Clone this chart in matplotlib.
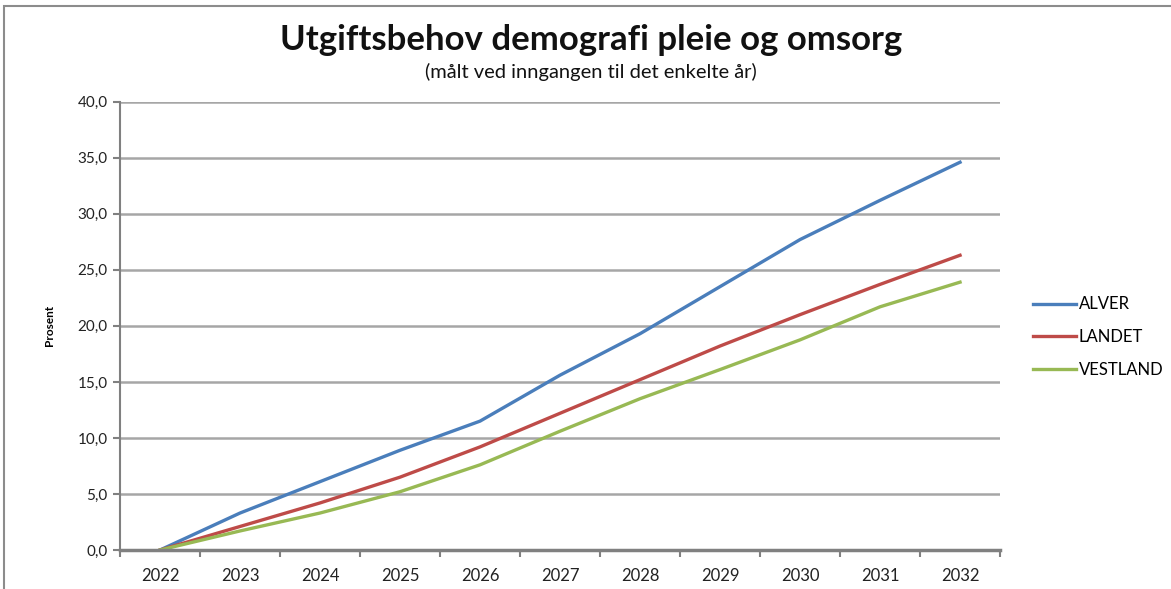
import numpy as np
import matplotlib
matplotlib.use('Agg')
import matplotlib.pyplot as plt
from matplotlib.patches import Rectangle

# Data
years = ['2022', '2023', '2024', '2025', '2026', '2027', '2028', '2029', '2030', '2031', '2032']
alver = [0.0, 3.3, 6.1, 8.9, 11.5, 15.6, 19.3, 23.5, 27.7, 31.2, 34.6]
landet = [0.0, 2.1, 4.2, 6.5, 9.2, 12.2, 15.2, 18.2, 21.0, 23.7, 26.3]
vestland = [0.0, 1.7, 3.3, 5.2, 7.6, 10.6, 13.5, 16.1, 18.75, 21.7, 23.9]
yticks = [0, 5, 10, 15, 20, 25, 30, 35, 40]

plt.rcParams['font.family'] = ['Lato', 'DejaVu Sans']

fig = plt.figure(figsize=(11.71, 5.89), dpi=100)
# outer chart frame
fig.patches.append(Rectangle((0.003, -0.02), 1.1, 1.01, transform=fig.transFigure,
                             fill=False, edgecolor='#8c8c8c', linewidth=1.5))

ax = fig.add_axes([0.1025, 0.0662, 0.7515, 0.7611])
x = np.arange(len(years))
ax.plot(x, alver, color='#4a7ebb', lw=2.4, label='ALVER')
ax.plot(x, landet, color='#be4b48', lw=2.4, label='LANDET')
ax.plot(x, vestland, color='#98b954', lw=2.4, label='VESTLAND')

ax.set_xlim(-0.5, len(years) - 0.5)
ax.set_ylim(0, 40)
ax.set_yticks(yticks)
ax.set_yticklabels([('%.1f' % v).replace('.', ',') for v in yticks])
ax.set_xticks(x)
ax.set_xticklabels(years)
ax.set_xticks(np.arange(-0.5, len(years)), minor=True)
ax.tick_params(axis='x', which='major', length=0, pad=13, labelsize=12, colors='#222222')
ax.tick_params(axis='x', which='minor', length=5, width=1.5, color='#808080')
ax.tick_params(axis='y', length=5, width=1.5, color='#808080', labelsize=11, labelcolor='#222222', pad=4)

ax.grid(axis='y', color='#a6a6a6', lw=1.8)
ax.set_axisbelow(True)
for s in ['top', 'right']:
    ax.spines[s].set_visible(False)
ax.spines['left'].set_color('#808080')
ax.spines['left'].set_linewidth(1.5)
ax.spines['bottom'].set_color('#808080')
ax.spines['bottom'].set_linewidth(2.5)

ax.set_ylabel('Prosent', fontsize=8.5, fontweight='bold', labelpad=16)

fig.text(0.505, 0.932, 'Utgiftsbehov demografi pleie og omsorg', ha='center', va='center',
         fontsize=25, fontweight='bold', color='#111111')
fig.text(0.505, 0.877, '(målt ved inngangen til det enkelte år)', ha='center', va='center',
         fontsize=14.5, color='#111111')

ax.legend(loc='center left', bbox_to_anchor=(1.02, 0.475), frameon=False, fontsize=12,
          handlelength=2.6, handletextpad=0.15, labelspacing=1.0)

fig.savefig('out.png', dpi=100)
